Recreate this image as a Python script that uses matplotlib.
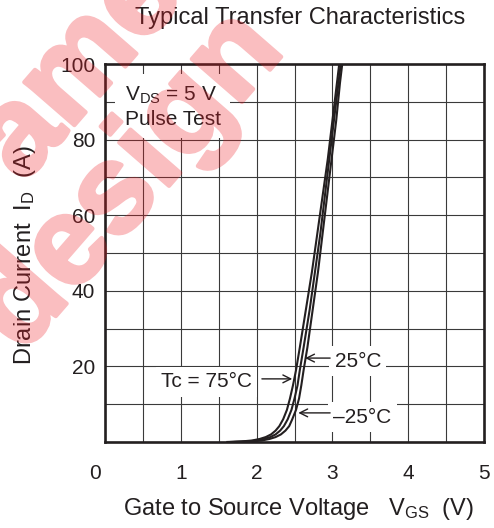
import matplotlib
matplotlib.use("Agg")
import numpy as np
import matplotlib.pyplot as plt
import matplotlib.patheffects as pe
from matplotlib.transforms import ScaledTranslation

plt.rcParams['font.family'] = ['Liberation Sans', 'DejaVu Sans']
plt.rcParams['mathtext.fontset'] = 'custom'
plt.rcParams['mathtext.rm'] = 'Liberation Sans'
plt.rcParams['mathtext.it'] = 'Liberation Sans'
plt.rcParams['mathtext.bf'] = 'Liberation Sans:bold'

# ---- data ----
drain_current = [0, 0.15, 0.4, 0.8, 1.3, 2.0, 3.0, 4.2, 6.0, 8.5, 11.5, 15, 19, 25, 35, 45, 55, 65, 75, 85, 95, 105]
vgs_75 = [1.60, 1.80, 1.94, 2.04, 2.12, 2.19, 2.25, 2.30, 2.35, 2.40, 2.44, 2.48, 2.52, 2.57, 2.65, 2.73, 2.80, 2.87, 2.94, 3.00, 3.06, 3.12]
vgs_25 = [1.65, 1.87, 2.00, 2.10, 2.18, 2.25, 2.31, 2.36, 2.41, 2.46, 2.50, 2.54, 2.57, 2.62, 2.70, 2.77, 2.84, 2.90, 2.96, 3.02, 3.08, 3.14]
vgs_m25 = [1.70, 1.94, 2.07, 2.17, 2.25, 2.32, 2.38, 2.43, 2.47, 2.52, 2.56, 2.59, 2.62, 2.67, 2.74, 2.81, 2.87, 2.93, 2.99, 3.05, 3.10, 3.16]
x_ticks = [0, 1, 2, 3, 4, 5]
y_ticks = [20, 40, 60, 80, 100]

fig = plt.figure(figsize=(4.94, 5.28), dpi=100)
ax = fig.add_axes([105/494, 1-442/528, 379/494, 378/528])

ink = '#231f20'
ax.set_xlim(0, 5)
ax.set_ylim(0, 100)
ax.set_xticks([i*0.5 for i in range(11)], minor=True)
ax.set_yticks(list(range(0, 101, 10)), minor=True)
ax.set_xticks(x_ticks)
ax.set_yticks(y_ticks)
ax.set_xticklabels([str(v) for v in x_ticks])
ax.set_yticklabels([str(v) for v in y_ticks])
ax.grid(True, which='both', color='#3a3a3a', lw=0.8)
ax.set_axisbelow(True)
ax.tick_params(which='both', length=0, labelsize=15, colors='#231f20')
ax.tick_params(axis='x', pad=16)
ax.tick_params(axis='y', pad=7)
for s in ax.spines.values():
    s.set_linewidth(1.9)
    s.set_color(ink)
    s.set_zorder(5)

lbl0 = ax.get_xticklabels()[0]
lbl0.set_transform(lbl0.get_transform() + ScaledTranslation(-0.10, 0, fig.dpi_scale_trans))

for v in (vgs_75, vgs_25, vgs_m25):
    ax.plot(v, drain_current, color=ink, lw=1.5, zorder=3, solid_capstyle='butt')

box = dict(boxstyle='square,pad=0.25', fc='white', ec='none')
ax.text(0.26, 94.5, 'V$_{\\mathrm{DS}}$ = 5 V\nPulse Test', fontsize=15, color=ink,
        ha='left', va='top', linespacing=1.25,
        bbox=dict(boxstyle='square,pad=0.45', fc='white', ec='none'), zorder=4)

ax.text(3.03, 21.4, '25°C', fontsize=15, color=ink, ha='left', va='center', bbox=box, zorder=4)
ax.text(1.94, 15.9, 'Tc = 75°C', fontsize=15, color=ink, ha='right', va='center', bbox=box, zorder=4)
ax.text(3.01, 6.6, '\u201325°C', fontsize=15, color=ink, ha='left', va='center', bbox=box, zorder=4)

arw = dict(arrowstyle='->', lw=1.0, color=ink, mutation_scale=14, shrinkA=0, shrinkB=0)
ax.annotate('', xy=(2.64, 22.2), xytext=(2.97, 22.2), arrowprops=arw, zorder=6)
ax.annotate('', xy=(2.47, 16.7), xytext=(2.07, 16.7), arrowprops=arw, zorder=6)
ax.annotate('', xy=(2.55, 7.7), xytext=(2.97, 7.7), arrowprops=arw, zorder=6)

fig.text(300/494, 1-18/528, 'Typical Transfer Characteristics', fontsize=17, color=ink,
         ha='center', va='center')
fig.text(298.5/494, 1-509/528, 'Gate to Source Voltage   V$_{\\mathrm{GS}}$  (V)', fontsize=17,
         color=ink, ha='center', va='center')
fig.text(25/494, 1-255/528, 'Drain Current  I$_{\\mathrm{D}}$  (A)', fontsize=17,
         color=ink, ha='center', va='center', rotation=90)


# watermark: drawn opaque (slightly thickened), then made translucent as a whole
def fade(img, dpi):
    out = img.copy()
    out[..., 3] = out[..., 3] * 0.29
    return out, 0, 0


wm_col = '#ee1c25'
wm = dict(color=wm_col, fontweight='bold', fontsize=90,
          ha='center', va='center', rotation=49, rotation_mode='anchor', zorder=10,
          path_effects=[pe.withStroke(linewidth=3, foreground=wm_col)])
for txt, (px, py) in (('design', (130, 182)), ('amen', (106, 40))):
    t = fig.text(px/494, 1-py/528, txt, **wm)
    t.set_agg_filter(fade)

fig.savefig('out.png', dpi=100)
